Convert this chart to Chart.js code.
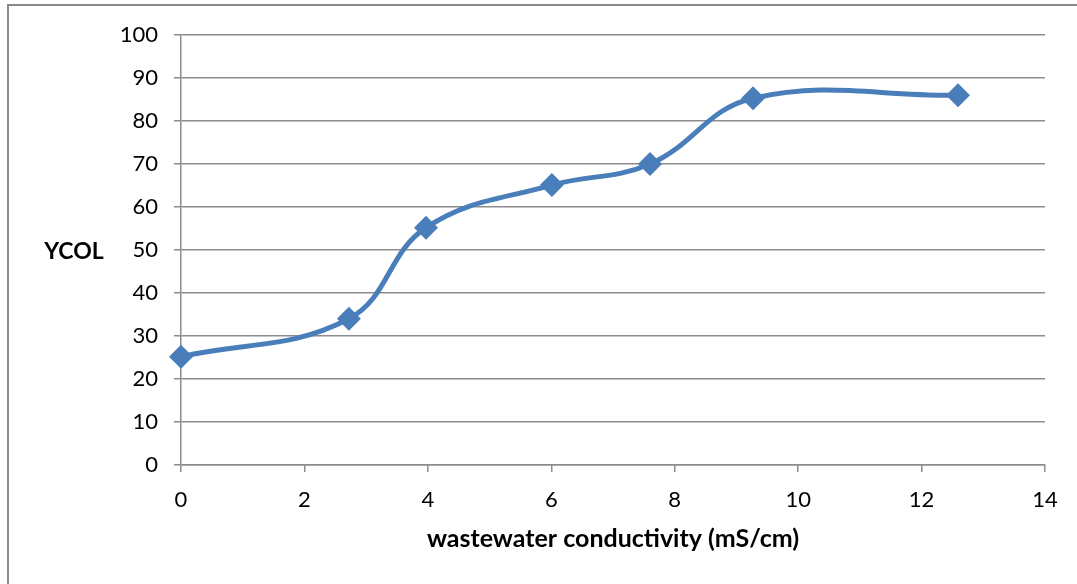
<!DOCTYPE html>
<html>
<head>
<meta charset="utf-8">
<script src="https://cdn.jsdelivr.net/npm/chart.js@4"></script>
<style>
  html, body { margin: 0; padding: 0; background: #fff; }
  #wrap { position: relative; width: 1077px; height: 584px; overflow: hidden; }
  #frame { position: absolute; left: 7px; top: 4px; width: 1200px; height: 700px; border: 2px solid #8a8a8a; }
  #myChart { position: absolute; left: 0; top: 0; }
</style>
</head>
<body>
<div id="wrap">
  <div id="frame"></div>
  <canvas id="myChart" width="1077" height="584"></canvas>
</div>
<script>
const conductivity = [0, 2.72, 3.97, 6.01, 7.6, 9.27, 12.59];
const ycol = [25.2, 34.0, 55.2, 65.1, 70.0, 85.3, 86.0];
const xTitle = 'wastewater conductivity (mS/cm)';
const yTitle = 'YCOL';

const fontFamily = 'Lato, "Open Sans", sans-serif';
const gridColor = '#8c8c8c';

// horizontal y axis title, like Excel
const yTitlePlugin = {
  id: 'yTitle',
  afterDraw(chart) {
    const ctx = chart.ctx;
    const area = chart.chartArea;
    ctx.save();
    ctx.font = 'bold 23px ' + fontFamily;
    ctx.fillStyle = '#000';
    ctx.textAlign = 'center';
    ctx.textBaseline = 'middle';
    ctx.fillText(yTitle, 74, (area.top + area.bottom) / 2 + 2);
    ctx.restore();
  }
};

const chart = document.getElementById('myChart');

new Chart(chart, {
  type: 'line',
  data: {
    datasets: [{
      label: yTitle,
      data: conductivity.map((x, i) => ({ x: x, y: ycol[i] })),
      borderColor: '#4a7ebb',
      backgroundColor: '#4a7ebb',
      borderWidth: 5,
      tension: 0.4,
      clip: false,
      pointStyle: 'rectRot',
      pointRadius: 12,
      pointHoverRadius: 12,
      pointBorderWidth: 0
    }]
  },
  options: {
    responsive: false,
    animation: false,
    layout: {
      padding: { left: 0, right: 32, top: 35, bottom: 0 }
    },
    plugins: {
      legend: { display: false },
      tooltip: { enabled: false }
    },
    scales: {
      x: {
        type: 'linear',
        min: 0,
        max: 14,
        afterFit(scale) { scale.height = 119; },
        ticks: {
          stepSize: 2,
          padding: 15,
          color: '#000',
          font: { family: fontFamily, size: 22 }
        },
        grid: {
          display: true,
          drawOnChartArea: false,
          color: gridColor,
          lineWidth: 1.5,
          tickLength: 7
        },
        border: { color: gridColor, width: 1.5 },
        title: {
          display: true,
          text: xTitle,
          color: '#000',
          padding: { top: 8, bottom: 30 },
          font: { family: fontFamily, size: 25, weight: 'bold' }
        }
      },
      y: {
        min: 0,
        max: 100,
        afterFit(scale) { scale.width = 181; },
        ticks: {
          stepSize: 10,
          padding: 16,
          color: '#000',
          font: { family: fontFamily, size: 22 }
        },
        grid: {
          color: gridColor,
          lineWidth: 1.5,
          tickLength: 7
        },
        border: { color: gridColor, width: 1.5 }
      }
    }
  },
  plugins: [yTitlePlugin]
});
</script>
</body>
</html>
